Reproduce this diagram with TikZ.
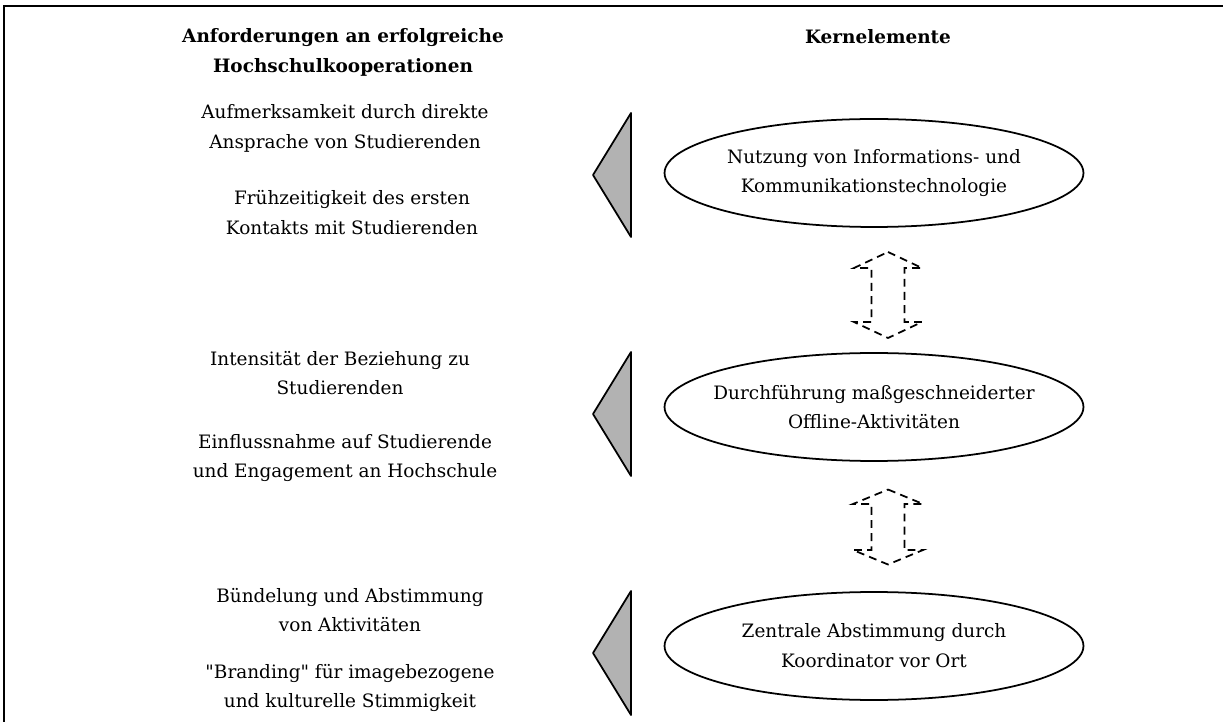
\documentclass[tikz,border=0pt]{standalone}
\usepackage{fontspec}
\setmainfont{DejaVu Serif}[Ligatures=TeXOff]
\usepackage{tikz}
\usetikzlibrary{shapes.geometric}
\tikzstyle{head}=[text centered, align=center, font=\fontsize{10.5}{17}\selectfont\bfseries]
\tikzstyle{req}=[text centered, align=center, font=\fontsize{10.5}{17}\selectfont]
\tikzstyle{core}=[ellipse, draw=black, line width=1pt, minimum width=8.38cm, minimum height=2.16cm, inner sep=0pt]
\tikzstyle{pointer}=[draw=black, line width=1pt, fill=black!30, line join=round]
\tikzstyle{link}=[draw=black, dash pattern=on 4.5pt off 3pt, line width=1pt]

\begin{document}
\begin{tikzpicture}[x=0.02cm, y=-0.02cm]
        \useasboundingbox (0,0) rectangle (1223,722);
        % frame
        \draw [line width=1.5pt] (1223,6) -- (4,6) -- (4,722);

        % headings
        \node (headreq) [head] at (343,52) {Anforderungen an erfolgreiche\\Hochschulkooperationen};
        \node (headcore) [head] at (878,37) {Kernelemente};

        % requirements
        \node (req1a) [req] at (345,128) {Aufmerksamkeit durch direkte\\Ansprache von Studierenden};
        \node (req1b) [req] at (352,213) {Frühzeitigkeit des ersten\\Kontakts mit Studierenden};
        \node (req2a) [req] at (340,373) {Intensität der Beziehung zu\\Studierenden};
        \node (req2b) [req] at (345,458) {Einflussnahme auf Studierende\\und Engagement an Hochschule};
        \node (req3a) [req] at (350,610) {Bündelung und Abstimmung\\von Aktivitäten};
        \node (req3b) [req] at (350,688) {"Branding" für imagebezogene\\und kulturelle Stimmigkeit};

        % pointers
        \draw [pointer] (631,113) -- (593,175) -- (631,237) -- cycle;
        \draw [pointer] (631,352) -- (593,414) -- (631,476) -- cycle;
        \draw [pointer] (631,591) -- (593,653) -- (631,715) -- cycle;

        % core elements
        \node (core1) [core] at (874,173) {};
        \node (core2) [core] at (874,407) {};
        \node (core3) [core] at (874,646) {};
        \node (core1txt) [req] at (core1) {Nutzung von Informations- und\\Kommunikationstechnologie};
        \node (core2txt) [req] at (core2) {Durchführung maßgeschneiderter\\Offline-Aktivitäten};
        \node (core3txt) [req] at (core3) {Zentrale Abstimmung durch\\Koordinator vor Ort};

        % links between core elements
        \coordinate (link1) at (888,295);
        \coordinate (link2) at (888,527);
        \begin{scope}[shift={(link1)}]
            \draw [link] (0,-43) -- (34,-27) -- (16.5,-27) -- (16.5,27) -- (34,27) -- (0,43)
                -- (-34,27) -- (-16.5,27) -- (-16.5,-27) -- (-34,-27) -- cycle;
        \end{scope}
        \begin{scope}[shift={(link2)}]
            \draw [link] (0,-37.5) -- (35,-23) -- (16.5,-23) -- (16.5,23) -- (35,23) -- (0,37.5)
                -- (-35,23) -- (-16.5,23) -- (-16.5,-23) -- (-35,-23) -- cycle;
        \end{scope}
\end{tikzpicture}
\end{document}
